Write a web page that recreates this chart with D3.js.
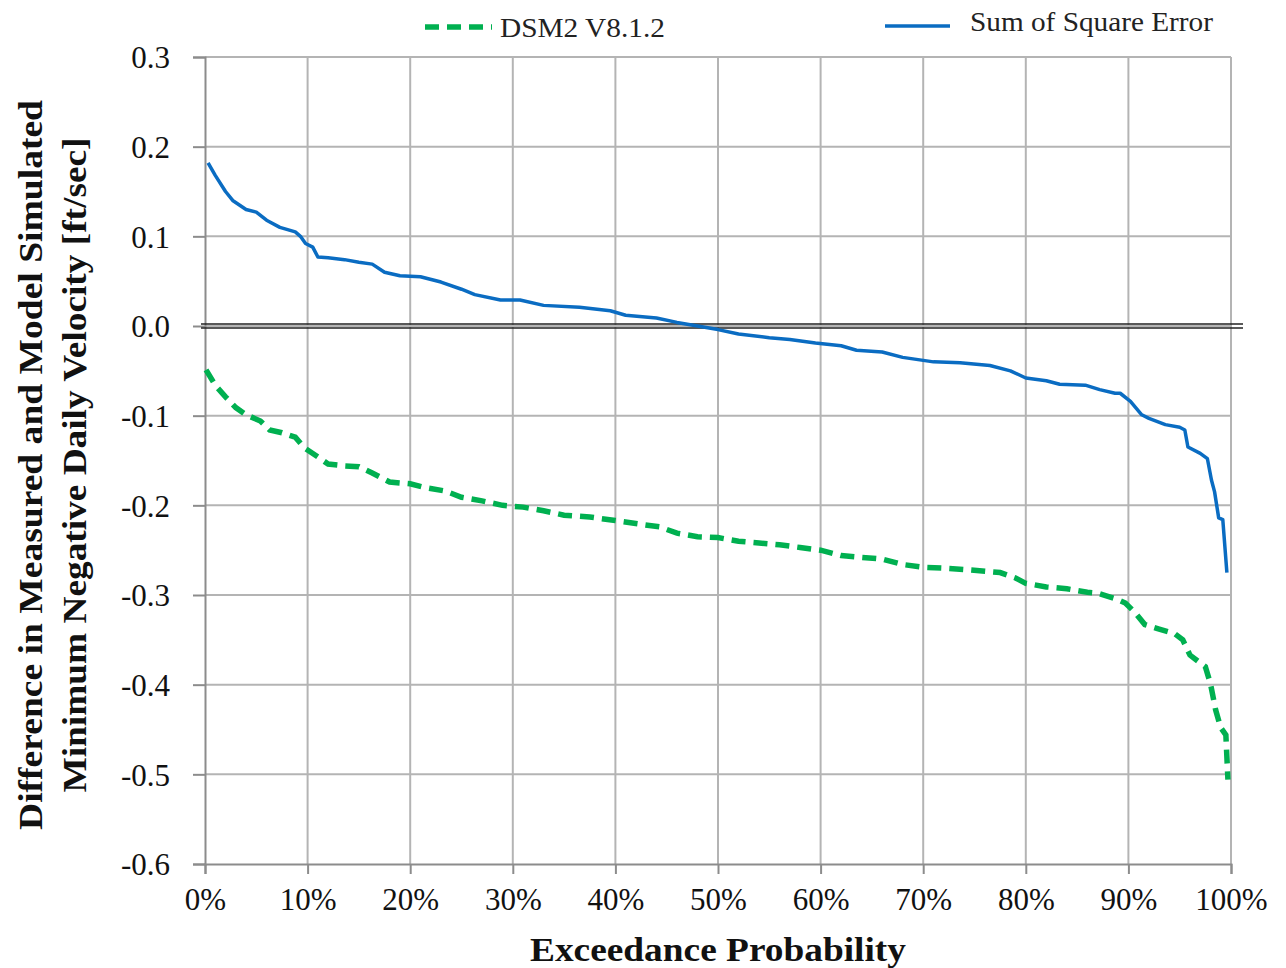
<!DOCTYPE html>
<html><head><meta charset="utf-8">
<script src="https://cdn.jsdelivr.net/npm/d3@7"></script>
<style>body{margin:0;background:#fff}svg{display:block}</style>
</head><body>
<svg id="chart" width="1286" height="968"></svg>
<script>
const xTicks = [0,0.1,0.2,0.3,0.4,0.5,0.6,0.7,0.8,0.9,1.0];
const yTicks = [0.3,0.2,0.1,0.0,-0.1,-0.2,-0.3,-0.4,-0.5,-0.6];
const seriesNames = ["DSM2 V8.1.2","Sum of Square Error"];

// Exceedance probability (%) and values for "Sum of Square Error"
const sseP = [0.3,1,2,2.7,4,5,6,7.3,8.8,9.3,9.8,10.5,11,12,13.6,15,16.3,17.5,19,21,23,25,26.3,28.8,30.7,33,36.5,39.5,41,44,46,48,50,52,55,57,59.5,62,63.5,66,68,71,73.6,76.5,78.5,80,82,83.3,85.8,87.2,88.7,89.2,90.2,91.3,92,93.6,95,95.5,95.8,97,97.7,98.1,98.4,98.8,99.2,99.6];
const sseV = [0.182,0.168,0.150,0.140,0.130,0.127,0.118,0.110,0.105,0.100,0.092,0.088,0.077,0.076,0.074,0.071,0.069,0.060,0.056,0.055,0.049,0.041,0.035,0.029,0.029,0.023,0.021,0.017,0.012,0.009,0.004,0.000,-0.004,-0.009,-0.013,-0.015,-0.019,-0.022,-0.027,-0.029,-0.035,-0.040,-0.041,-0.044,-0.050,-0.058,-0.061,-0.065,-0.066,-0.071,-0.075,-0.075,-0.084,-0.099,-0.103,-0.110,-0.113,-0.116,-0.135,-0.142,-0.148,-0.172,-0.185,-0.214,-0.216,-0.275];

// Exceedance probability (%) and values for "DSM2 V8.1.2"
const dsmP = [0.1,1,2,3,4,5.4,6.3,7.5,8.8,9.7,11,12,13.6,15,16.3,18,20,21.4,23.4,25,27,29,31,33,35,37.5,40,42.4,44.3,46,48,50,52,54,56,58,60,62,64,66,68,70,72,74.5,77.5,79,80,82,84,86,87,88.7,89.7,90.6,91.6,93,94.5,95.3,96,97.5,98,98.5,99,99.5,99.7];
const dsmV = [-0.049,-0.066,-0.079,-0.091,-0.099,-0.106,-0.116,-0.119,-0.124,-0.136,-0.146,-0.154,-0.156,-0.157,-0.164,-0.174,-0.176,-0.180,-0.184,-0.191,-0.195,-0.200,-0.202,-0.206,-0.211,-0.213,-0.217,-0.221,-0.224,-0.231,-0.235,-0.236,-0.240,-0.242,-0.244,-0.247,-0.250,-0.256,-0.258,-0.260,-0.266,-0.269,-0.270,-0.272,-0.275,-0.281,-0.287,-0.291,-0.293,-0.297,-0.298,-0.304,-0.309,-0.319,-0.333,-0.338,-0.343,-0.350,-0.367,-0.380,-0.399,-0.428,-0.448,-0.456,-0.506];

const svg = d3.select("#chart");
const L = 205, R = 1231, T = 57, B = 864;
const x = d3.scaleLinear().domain([0,1]).range([L,R]);
const y = d3.scaleLinear().domain([-0.6,0.3]).range([B,T]);
const grid = "#b4b4b4";
const font = "'Times New Roman', Tinos, 'Liberation Serif', Times, serif";

// gridlines
svg.append("g").selectAll("line").data(xTicks.slice(1)).join("line")
  .attr("x1",d=>x(d)).attr("x2",d=>x(d)).attr("y1",T).attr("y2",B)
  .attr("stroke",grid).attr("stroke-width",2);
svg.append("g").selectAll("line").data(yTicks.filter(d=>d!==-0.6)).join("line")
  .attr("x1",L).attr("x2",R).attr("y1",d=>y(d)).attr("y2",d=>y(d))
  .attr("stroke",grid).attr("stroke-width",2);

// axes
const yAxis = d3.axisLeft(y).tickValues(yTicks).tickSize(12).tickPadding(23)
  .tickFormat(d=>d3.format(".1f")(d).replace("−","-"));
const gy = svg.append("g").attr("transform",`translate(${L},0)`).call(yAxis);
const xAxis = d3.axisBottom(x).tickValues(xTicks).tickSize(10).tickPadding(14)
  .tickFormat(d3.format(".0%"));
const gx = svg.append("g").attr("transform",`translate(0,${B})`).call(xAxis);
[gx,gy].forEach(g=>{
  g.attr("font-family",null).attr("font-size",null);
  g.select(".domain").attr("stroke","#8c8c8c").attr("stroke-width",2);
  g.selectAll(".tick line").attr("stroke","#8c8c8c").attr("stroke-width",2);
  g.selectAll("text").style("font-family",font).style("font-size","31px").attr("fill","#111");
});
gx.selectAll("text").attr("dy","0.71em");
gy.selectAll("text").attr("dy","0.35em");

// zero line (double)
[-2,2].forEach(o=>{
  svg.append("line").attr("x1",L-4).attr("x2",1243)
    .attr("y1",y(0)+o).attr("y2",y(0)+o)
    .attr("stroke","#222").attr("stroke-width",1.5);
});

// series
const line = d3.line().x(d=>x(d[0]/100)).y(d=>y(d[1]));
svg.append("path").datum(dsmP.map((p,i)=>[p,dsmV[i]]))
  .attr("d",line).attr("fill","none").attr("stroke","#00b050")
  .attr("stroke-width",5.5).attr("stroke-dasharray","14,8");
svg.append("path").datum(sseP.map((p,i)=>[p,sseV[i]]))
  .attr("d",line).attr("fill","none").attr("stroke","#0a6cc2")
  .attr("stroke-width",3.5).attr("stroke-linejoin","round");

// legend
svg.append("line").attr("x1",425).attr("x2",492).attr("y1",27).attr("y2",27)
  .attr("stroke","#00b050").attr("stroke-width",5.5).attr("stroke-dasharray","14,8");
svg.append("text").attr("x",500).attr("y",37).text(seriesNames[0])
  .style("font-family",font).style("font-size","28px").attr("fill","#222")
  .attr("textLength",165).attr("lengthAdjust","spacingAndGlyphs");
svg.append("line").attr("x1",885).attr("x2",950).attr("y1",26).attr("y2",26)
  .attr("stroke","#0a6cc2").attr("stroke-width",3.5);
svg.append("text").attr("x",970).attr("y",31).text(seriesNames[1])
  .style("font-family",font).style("font-size","28px").attr("fill","#222")
  .attr("textLength",243).attr("lengthAdjust","spacingAndGlyphs");

// axis titles
svg.append("text").attr("x",718).attr("y",961).attr("text-anchor","middle")
  .style("font-family",font).style("font-size","34px").attr("font-weight","bold")
  .attr("fill","#111").attr("textLength",376).attr("lengthAdjust","spacingAndGlyphs")
  .text("Exceedance Probability");
const yt = svg.append("text").attr("transform","translate(0,465) rotate(-90)")
  .attr("text-anchor","middle").style("font-family",font).style("font-size","34px")
  .attr("font-weight","bold").attr("fill","#111");
yt.append("tspan").attr("x",0).attr("y",42).attr("textLength",730)
  .attr("lengthAdjust","spacingAndGlyphs").text("Difference in Measured and Model Simulated");
yt.append("tspan").attr("x",0).attr("y",86).attr("textLength",655)
  .attr("lengthAdjust","spacingAndGlyphs").text("Minimum  Negative Daily Velocity [ft/sec]");
</script>
</body></html>
